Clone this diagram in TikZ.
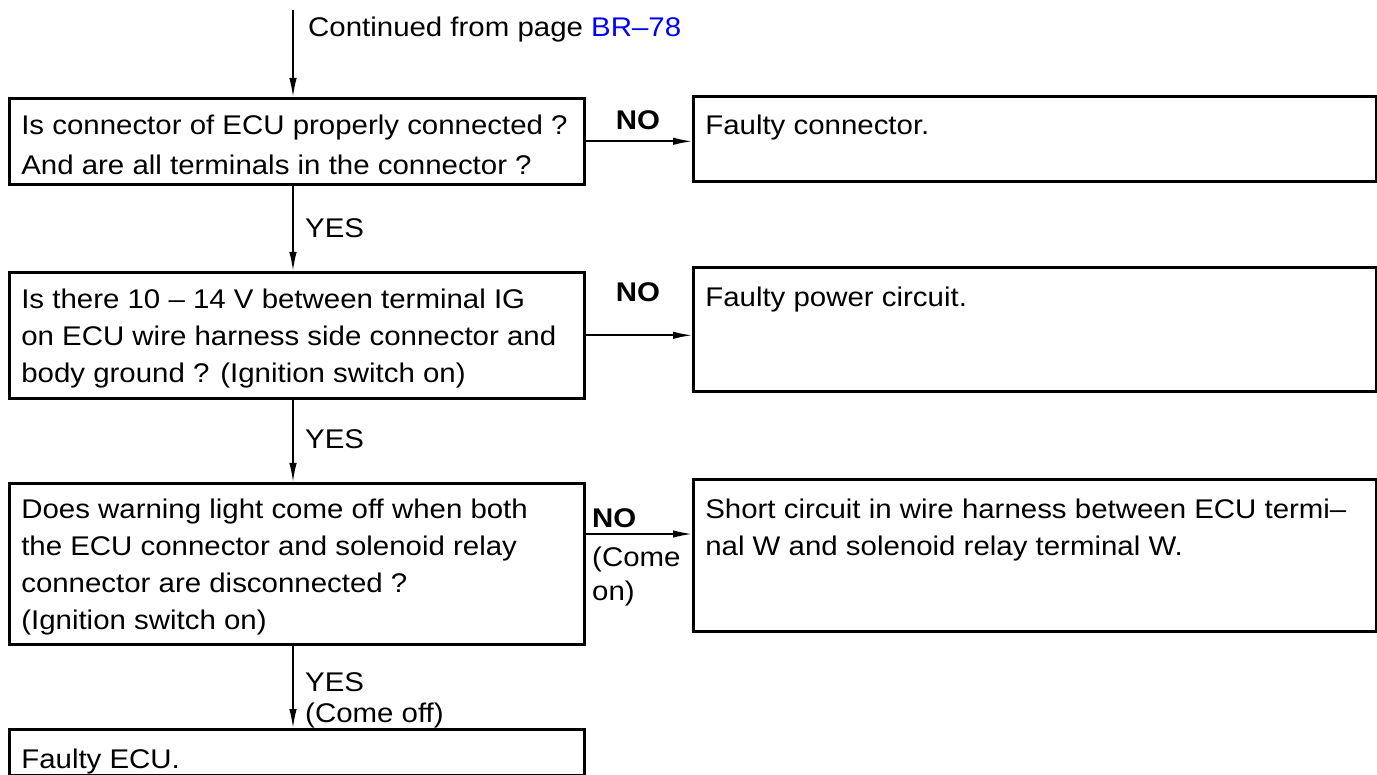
\documentclass[tikz,border=0pt]{standalone}
\usepackage{fontspec}
\setmainfont[FakeStretch=1.09]{Liberation Sans}
\usetikzlibrary{arrows.meta}
\definecolor{linkblue}{RGB}{0,0,255}
\newcommand{\fs}{\fontsize{27}{37}\selectfont}
\begin{document}
\begin{tikzpicture}[x=1pt,y=-1pt,
  box/.style={draw, line width=2.6pt, anchor=north west, inner xsep=12pt, inner ysep=0pt, font=\fs},
  arr/.style={line width=1.6pt, -{Latex[length=19pt,width=7.5pt]}},
  lbl/.style={font=\fs, inner sep=0pt, anchor=base west},
  nolbl/.style={font=\fs\bfseries, inner sep=0pt, anchor=base}]
\useasboundingbox (0,0) rectangle (1377,775);

% boxes
\node[box, text height=36pt, text depth=50pt] (b1) at (8,97)
  {\parbox[t]{551pt}{\raggedright Is connector of ECU properly connected ?\\[3pt]And are all terminals in the connector ?}};
\node[box, text height=36pt, text depth=90pt] (b2) at (8,271)
  {\parbox[t]{551pt}{\raggedright Is there 10 – 14 V between terminal IG\\on ECU wire harness side connector and\\body ground ? (Ignition switch on)}};
\node[box, text height=35pt, text depth=126pt] (b3) at (8,482)
  {\parbox[t]{551pt}{\raggedright Does warning light come off when both\\the ECU connector and solenoid relay\\connector are disconnected ?\\(Ignition switch on)}};
\node[box, text height=39pt, text depth=7pt] (b4) at (8,728)
  {\parbox[t]{551pt}{\raggedright Faulty ECU.}};

\node[box, text height=38pt, text depth=47pt] (r1) at (692,95)
  {\parbox[t]{659pt}{\raggedright Faulty connector.}};
\node[box, text height=39pt, text depth=85pt] (r2) at (692,266)
  {\parbox[t]{659pt}{\raggedright Faulty power circuit.}};
\node[box, text height=39pt, text depth=113pt] (r3) at (692,478)
  {\parbox[t]{659pt}{\raggedright Short circuit in wire harness between ECU termi–\\nal W and solenoid relay terminal W.}};

% connectors
\coordinate (s) at (293,10);
\draw[arr] (s) -- (s |- b1.north);
\draw[arr] (s |- b1.south) -- (s |- b2.north);
\draw[arr] (s |- b2.south) -- (s |- b3.north);
\draw[arr] (s |- b3.south) -- (s |- b4.north);
\draw[arr] (b1.east) -- (b1.east -| r1.west);
\draw[arr] (b2.east) -- (b2.east -| r2.west);
\coordinate (n3) at ([yshift=-52pt]b3.north east);
\draw[arr] (n3) -- (n3 -| r3.west);

% labels
\node[lbl] (cont) at (308,37) {Continued from page \textcolor{linkblue}{BR–78}};
\node[nolbl] (no1) at (638,130) {NO};
\node[nolbl] (no2) at (638,302) {NO};
\node[nolbl, anchor=base west] (no3) at (592,527) {NO};
\node[lbl] (come1) at (592,566) {(Come};
\node[lbl] (on1) at (592,600) {on)};
\node[lbl] (yes1) at (305,238) {YES};
\node[lbl] (yes2) at (305,449) {YES};
\node[lbl] (yes3) at (305,691) {YES};
\node[lbl] (comeoff) at (305,722) {(Come off)};
\end{tikzpicture}
\end{document}
